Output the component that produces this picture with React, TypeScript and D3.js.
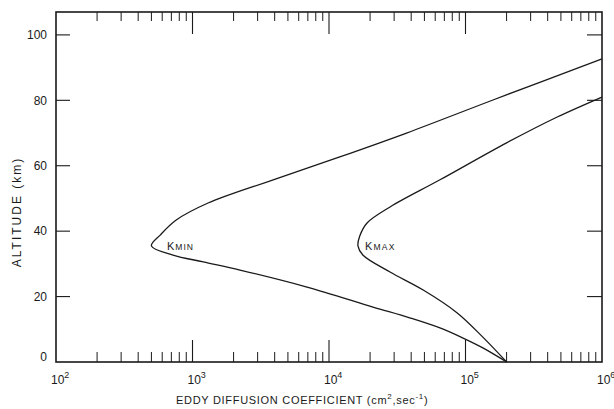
import React from "react";
import * as d3 from "d3";

// Data (altitude in km, eddy diffusion coefficient in cm^2/s)
const kminAlt = [0, 4.3, 7.3, 10.4, 13.5, 16.8, 22.9, 28.1, 30.6, 32.7, 35.5, 38.8, 43.4, 48.6, 55.7, 62.7, 70.0, 80.1, 92.7];
const kminK = [2.0e5, 1.34e5, 9.6e4, 6.5e4, 3.9e4, 2.1e4, 6.9e3, 2.23e3, 1.2e3, 720, 500, 580, 760, 1.3e3, 3.9e3, 1.2e4, 3.7e4, 1.59e5, 1.0e6];
const kmaxAlt = [0, 7.6, 15.0, 22.0, 27.5, 32.7, 35.5, 38.5, 42.5, 47.4, 55.7, 67.0, 74.9, 81.0];
const kmaxK = [2.0e5, 1.34e5, 8.7e4, 4.9e4, 2.8e4, 1.77e4, 1.63e4, 1.68e4, 1.9e4, 2.8e4, 6.5e4, 2.0e5, 4.7e5, 1.0e6];
const yTicks = [0, 20, 40, 60, 80, 100];
const xDecades = [2, 3, 4, 5, 6];
const xTitle = "EDDY DIFFUSION COEFFICIENT (cm";
const yTitle = "ALTITUDE (km)";

const W = 614, H = 409;
const left = 56, right = 602, top = 12, bottom = 362;
const ink = "#1a1a1a";
const font = "'Liberation Sans', Arial, sans-serif";

export default function App() {
  const x = d3.scaleLog().domain([1e2, 1e6]).range([left, right]);
  const y = d3.scaleLinear().domain([0, 107]).range([bottom, top]);

  const line = d3
    .line<[number, number]>()
    .x((d) => x(d[1]))
    .y((d) => y(d[0]))
    .curve(d3.curveCatmullRom.alpha(0.5));

  const kmin: [number, number][] = kminAlt.map((a, i) => [a, kminK[i]]);
  const kmax: [number, number][] = kmaxAlt.map((a, i) => [a, kmaxK[i]]);

  const minor: number[] = [];
  for (let e = 2; e < 6; e++) {
    for (let m = 2; m <= 9; m++) minor.push(m * Math.pow(10, e));
  }
  const majors = xDecades.slice(1, -1).map((e) => Math.pow(10, e));

  return (
    <svg width={W} height={H} style={{ position: "absolute", left: 0, top: 0, background: "#fff" }}>
      <rect x={0} y={0} width={W} height={H} fill="#fff" />
      {/* frame */}
      <rect x={left} y={top} width={right - left} height={bottom - top} fill="none" stroke={ink} strokeWidth={1.6} />

      {/* x minor/major ticks bottom & top */}
      {minor.map((v, i) => (
        <g key={"mn" + i} stroke={ink} strokeWidth={1}>
          <line x1={x(v)} x2={x(v)} y1={bottom} y2={bottom - 10} />
          <line x1={x(v)} x2={x(v)} y1={top} y2={top + 9} />
        </g>
      ))}
      {majors.map((v, i) => (
        <g key={"mj" + i} stroke={ink} strokeWidth={1.1}>
          <line x1={x(v)} x2={x(v)} y1={bottom} y2={bottom - 22} />
          <line x1={x(v)} x2={x(v)} y1={top} y2={top + 22} />
        </g>
      ))}

      {/* y ticks */}
      {yTicks.filter((t) => t > 0).map((t) => (
        <g key={"yt" + t} stroke={ink} strokeWidth={1.1}>
          <line x1={left} x2={left + 14} y1={y(t)} y2={y(t)} />
          <line x1={right} x2={right - 15} y1={y(t)} y2={y(t)} />
        </g>
      ))}

      {/* y tick labels */}
      {yTicks.map((t) => (
        <text
          key={"yl" + t}
          x={47}
          y={y(t) - (t === 0 ? 5 : 0)}
          dy="0.36em"
          textAnchor="end"
          fontFamily={font}
          fontSize={12}
          fill={ink}
        >
          {t}
        </text>
      ))}

      {/* x tick labels */}
      {xDecades.map((e) => {
        const xx = x(Math.pow(10, e));
        return (
          <text key={"xl" + e} x={xx - 5} y={384} fontFamily={font} fontSize={12} fill={ink}>
            10
            <tspan fontSize={9} dy={-6}>
              {e}
            </tspan>
          </text>
        );
      })}

      {/* axis titles */}
      <text x={176} y={404} fontFamily={font} fontSize={11} fill={ink} letterSpacing={0.7}>
        {xTitle}
        <tspan fontSize={8} dy={-5}>2</tspan>
        <tspan dy={5}>,sec</tspan>
        <tspan fontSize={8} dy={-5}>-1</tspan>
        <tspan dy={5}>)</tspan>
      </text>
      <text
        transform={`translate(21,${212}) rotate(-90)`}
        textAnchor="middle"
        fontFamily={font}
        fontSize={12}
        fill={ink}
        letterSpacing={2}
      >
        {yTitle}
      </text>

      {/* curves */}
      <path d={line(kmin) || ""} fill="none" stroke={ink} strokeWidth={1.3} />
      <path d={line(kmax) || ""} fill="none" stroke={ink} strokeWidth={1.3} />

      {/* curve labels */}
      <text x={167} y={y(35.5) + 4} fontFamily={font} fill={ink} letterSpacing={1}>
        <tspan fontSize={11}>K</tspan>
        <tspan fontSize={8.5}>MIN</tspan>
      </text>
      <text x={365} y={y(35.5) + 4} fontFamily={font} fill={ink} letterSpacing={1.2}>
        <tspan fontSize={11}>K</tspan>
        <tspan fontSize={8.5}>MAX</tspan>
      </text>
    </svg>
  );
}
